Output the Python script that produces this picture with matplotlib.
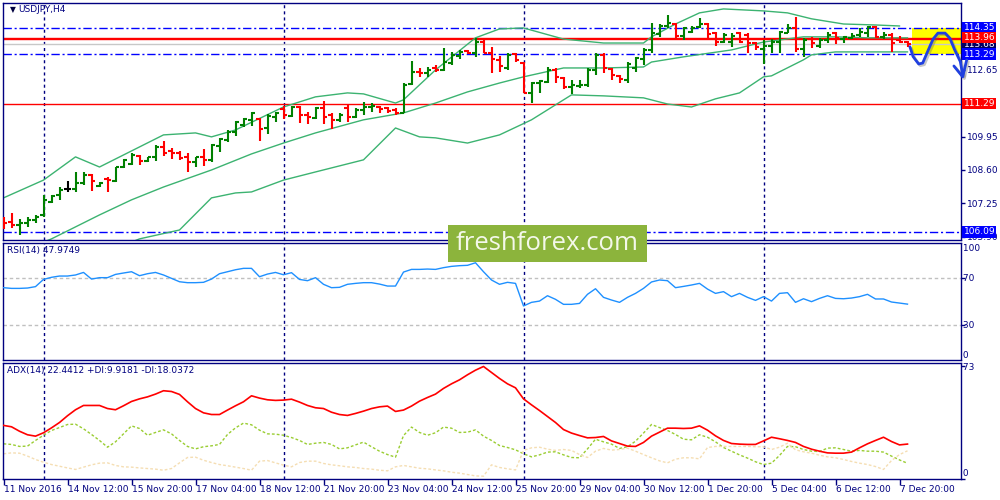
import numpy as np
import matplotlib
matplotlib.use("Agg")
import matplotlib.pyplot as plt
import matplotlib.patheffects as pe
from matplotlib.patches import Rectangle

# USDJPY H4 bars, 11 Nov 2016 .. 7 Dec 2016
opens = [106.58, 106.51, 106.37, 106.44, 106.58, 106.78, 107.32, 107.59, 107.82, 107.82,
         108.09, 108.40, 107.95, 108.23, 108.16, 108.71, 108.84, 109.17, 108.96, 109.14,
         109.54, 109.37, 109.28, 109.14, 108.94, 109.11, 109.00, 109.57, 109.82, 110.13,
         110.42, 110.62, 110.65, 110.29, 110.76, 111.06, 110.79, 111.14, 110.83, 110.72,
         111.10, 110.83, 110.62, 111.10, 110.76, 111.03, 111.14, 111.16, 111.10, 111.03,
         110.92, 112.08, 112.58, 112.54, 112.72, 112.65, 112.92, 113.22, 113.40, 113.35,
         113.80, 113.35, 113.06, 112.72, 113.30, 112.92, 111.73, 112.11, 112.18, 112.65,
         112.31, 111.95, 112.00, 112.04, 112.65, 113.26, 112.68, 112.41, 112.25, 112.72,
         113.08, 113.46, 114.11, 114.43, 114.51, 114.03, 114.20, 114.38, 114.51, 114.14,
         113.80, 113.80, 114.14, 114.07, 113.73, 113.50, 113.62, 113.80, 114.16, 114.34,
         113.49, 113.89, 113.62, 113.87, 114.16, 113.89, 113.93, 114.07, 114.16, 114.38,
         114.00, 114.07, 113.87, 113.80]
highs = [106.71, 106.85, 106.60, 106.71, 106.78, 107.59, 107.59, 107.92, 108.15, 108.53,
         108.53, 108.44, 108.13, 108.33, 108.73, 109.05, 109.30, 109.21, 109.14, 109.61,
         109.77, 109.50, 109.38, 109.28, 109.14, 109.44, 109.65, 109.88, 110.22, 110.60,
         110.72, 110.95, 110.69, 110.86, 110.94, 111.19, 111.19, 111.19, 110.96, 111.14,
         111.41, 110.90, 110.90, 111.23, 111.10, 111.37, 111.33, 111.19, 111.16, 111.12,
         112.11, 113.01, 112.72, 112.77, 112.85, 113.53, 113.38, 113.46, 113.46, 113.93,
         113.88, 113.59, 113.22, 113.33, 113.33, 112.99, 112.18, 112.25, 112.78, 112.72,
         112.35, 112.25, 112.25, 112.72, 113.35, 113.33, 112.72, 112.45, 112.99, 113.19,
         113.53, 114.57, 114.51, 114.88, 114.54, 114.40, 114.43, 114.74, 114.54, 114.20,
         114.14, 114.14, 114.20, 114.14, 113.80, 113.87, 113.89, 114.24, 114.51, 114.81,
         113.93, 113.97, 113.93, 114.20, 114.20, 114.03, 114.14, 114.34, 114.43, 114.43,
         114.20, 114.14, 114.03, 113.84]
lows = [106.20, 106.24, 105.97, 106.28, 106.47, 106.68, 107.28, 107.39, 107.70, 107.72,
        107.99, 107.76, 107.90, 107.72, 108.10, 108.67, 108.80, 108.80, 108.94, 108.98,
        109.17, 109.03, 109.00, 108.53, 108.73, 108.76, 108.94, 109.34, 109.75, 109.98,
        110.35, 110.38, 109.79, 110.06, 110.53, 110.65, 110.76, 110.52, 110.46, 110.65,
        110.45, 110.25, 110.56, 110.56, 110.69, 110.83, 110.96, 110.92, 110.92, 110.83,
        110.90, 112.04, 112.35, 112.38, 112.58, 112.62, 112.85, 113.09, 113.30, 113.16,
        113.32, 112.54, 112.57, 112.65, 112.99, 111.71, 111.30, 111.71, 112.11, 112.11,
        111.87, 111.68, 111.91, 111.95, 112.45, 112.52, 112.25, 112.11, 112.13, 112.58,
        112.85, 113.35, 114.00, 114.34, 113.93, 113.87, 114.14, 114.34, 113.93, 113.62,
        113.73, 113.59, 113.73, 113.35, 113.46, 112.89, 113.33, 113.33, 114.14, 113.39,
        113.16, 113.53, 113.53, 113.73, 113.70, 113.76, 113.89, 114.00, 113.97, 113.93,
        113.89, 113.39, 113.73, 113.59]
closes = [106.47, 106.37, 106.44, 106.58, 106.68, 107.39, 107.55, 107.79, 107.82, 108.09,
          108.40, 108.16, 108.06, 108.20, 108.71, 109.00, 109.21, 108.96, 109.11, 109.54,
          109.30, 109.28, 109.10, 108.94, 109.11, 109.00, 109.61, 109.86, 110.15, 110.56,
          110.65, 110.90, 110.25, 110.79, 110.90, 110.83, 111.14, 110.83, 110.76, 111.10,
          110.76, 110.62, 110.83, 110.76, 111.03, 111.16, 111.19, 111.06, 111.00, 110.92,
          112.04, 112.58, 112.54, 112.63, 112.65, 112.97, 113.24, 113.39, 113.35, 113.80,
          113.35, 113.08, 112.81, 113.26, 113.06, 111.73, 112.14, 112.22, 112.65, 112.35,
          111.95, 112.04, 112.04, 112.65, 113.26, 112.72, 112.45, 112.27, 112.89, 113.12,
          113.46, 114.14, 114.43, 114.54, 114.03, 114.34, 114.34, 114.51, 114.11, 113.80,
          114.07, 114.03, 113.80, 113.73, 113.59, 113.62, 113.80, 114.20, 114.34, 113.49,
          113.87, 113.76, 113.87, 114.07, 113.93, 113.97, 114.03, 114.20, 114.38, 114.00,
          114.07, 113.76, 113.80, 113.68]

# Bollinger bands (bar index, price)
bb_up_bar = [0, 5, 9, 12, 20, 24, 26, 29, 35, 39, 43, 45, 49, 50, 54, 59, 61, 62, 65, 70,
             75, 80, 81, 84, 87, 90, 95, 98, 101, 105, 109, 112]
bb_up = [107.47, 108.19, 109.13, 108.72, 110.02, 110.10, 109.94, 110.22, 111.15, 111.56,
         111.72, 111.68, 111.31, 111.44, 112.65, 113.95, 114.19, 114.31, 114.35, 113.90,
         113.74, 113.74, 113.99, 114.51, 114.96, 115.12, 115.04, 114.96, 114.72, 114.51,
         114.47, 114.43]
bb_mid_bar = [4, 6, 12, 16, 20, 26, 31, 35, 39, 45, 50, 54, 58, 62, 65, 70, 75, 80, 81, 85,
              91, 95, 100, 104, 108, 113]
bb_mid = [105.55, 105.81, 106.78, 107.39, 107.91, 108.60, 109.25, 109.69, 110.10, 110.63,
          110.91, 111.31, 111.76, 112.12, 112.37, 112.73, 112.73, 112.77, 112.97, 113.18,
          113.46, 113.78, 113.99, 113.99, 113.95, 113.95]
bb_low_bar = [15, 17, 22, 26, 29, 31, 35, 39, 45, 49, 52, 54, 58, 62, 66, 71, 75, 80, 83, 86,
              89, 92, 95, 96, 100, 101, 104, 108, 113]
bb_low = [105.55, 105.81, 106.17, 107.47, 107.67, 107.71, 108.19, 108.52, 109.01, 110.30,
          109.94, 109.90, 109.69, 110.02, 110.63, 111.64, 111.60, 111.52, 111.27, 111.15,
          111.48, 111.72, 112.37, 112.41, 113.06, 113.26, 113.38, 113.38, 113.38]

rsi = [62.1, 61.5, 61.5, 61.8, 63.0, 69.2, 71.0, 72.1, 72.1, 73.0,
       75.2, 69.5, 70.7, 70.7, 73.5, 74.7, 75.8, 72.4, 74.1, 75.2,
       73.0, 70.1, 67.2, 66.4, 66.4, 66.7, 69.5, 74.1, 75.8, 77.5,
       78.7, 78.7, 71.5, 73.8, 75.2, 73.2, 75.0, 69.2, 68.1, 70.7,
       65.0, 62.1, 62.4, 65.0, 65.8, 66.4, 66.4, 65.2, 63.5, 63.5,
       75.5, 77.8, 77.8, 78.1, 77.8, 79.3, 80.4, 81.0, 81.3, 83.5,
       75.8, 68.7, 65.0, 66.7, 65.8, 46.4, 49.5, 50.6, 55.2, 52.1,
       47.8, 47.8, 48.6, 56.4, 61.2, 53.8, 51.5, 49.5, 53.8, 57.2,
       61.5, 67.0, 68.7, 68.1, 62.1, 63.2, 64.4, 65.8, 60.9, 57.2,
       58.7, 54.4, 57.2, 53.8, 51.2, 54.4, 50.6, 57.2, 57.8, 49.5,
       52.6, 50.1, 52.9, 55.2, 52.9, 52.6, 53.2, 54.4, 56.4, 52.4,
       52.4, 49.8, 48.9, 47.9749]
adx = [34.6, 33.7, 30.8, 28.5, 27.6, 29.8, 33.0, 36.5, 40.9, 44.8,
       47.6, 47.6, 47.6, 45.6, 44.8, 47.4, 50.2, 51.9, 53.2, 55.0,
       57.2, 56.7, 54.8, 50.0, 45.6, 42.8, 41.7, 41.7, 44.6, 47.4,
       50.0, 53.9, 52.4, 51.3, 50.9, 51.1, 51.7, 49.8, 47.6, 46.1,
       45.6, 43.2, 41.7, 41.1, 42.4, 43.9, 45.6, 46.7, 47.2, 43.7,
       44.6, 47.2, 50.4, 52.8, 55.0, 58.7, 61.7, 64.3, 67.6, 70.6,
       73.0, 69.1, 65.2, 61.7, 59.1, 51.9, 48.0, 44.3, 40.4, 36.5,
       31.9, 29.6, 28.0, 26.5, 26.7, 27.4, 24.5, 22.8, 21.1, 20.9,
       23.5, 27.6, 30.2, 32.8, 32.8, 32.6, 32.8, 34.3, 31.5, 27.8,
       24.8, 22.8, 22.4, 22.2, 22.2, 24.5, 26.9, 25.9, 24.8, 23.5,
       20.9, 19.1, 17.8, 16.7, 16.5, 16.5, 17.2, 20.0, 22.6, 24.8,
       26.9, 24.1, 21.9, 22.4412]
plus_di = [22.6, 22.2, 20.9, 21.1, 24.8, 28.2, 31.3, 33.2, 35.2, 35.4,
           32.4, 28.7, 24.8, 20.4, 23.9, 29.1, 34.3, 32.6, 28.2, 30.0,
           31.7, 29.1, 24.8, 20.9, 19.3, 20.7, 21.3, 22.2, 28.7, 33.0,
           36.1, 35.0, 31.5, 29.1, 28.9, 28.2, 26.7, 24.8, 22.2, 23.0,
           23.5, 22.2, 19.3, 20.0, 21.9, 23.7, 20.7, 17.8, 15.6, 13.9,
           28.0, 33.5, 30.0, 28.2, 29.8, 33.5, 32.8, 30.0, 30.2, 31.7,
           27.6, 24.8, 21.5, 20.2, 18.7, 16.1, 14.1, 15.4, 17.2, 17.4,
           15.4, 13.7, 13.5, 19.3, 25.6, 23.9, 22.4, 19.6, 20.7, 24.3,
           29.6, 35.2, 33.2, 31.3, 28.7, 25.6, 25.2, 28.5, 26.9, 23.9,
           20.2, 17.8, 15.4, 13.3, 10.9, 9.1, 10.0, 15.0, 20.9, 20.7,
           18.9, 17.8, 17.6, 19.8, 20.0, 18.9, 17.8, 18.3, 17.8, 17.8,
           17.2, 14.6, 12.1, 9.9181]
minus_di = [16.1, 16.7, 16.5, 14.6, 12.4, 10.6, 9.1, 8.0, 6.9, 5.9,
            7.4, 8.9, 10.0, 10.2, 8.5, 7.6, 7.4, 6.9, 6.5, 6.1,
            5.4, 6.5, 10.2, 13.7, 13.9, 11.9, 10.4, 9.1, 8.3, 7.4,
            6.5, 5.4, 11.3, 11.7, 10.2, 8.7, 7.6, 10.4, 11.3, 11.3,
            9.8, 8.9, 8.3, 7.6, 7.2, 6.5, 6.1, 5.4, 5.0, 7.6,
            8.5, 7.6, 6.7, 6.3, 5.6, 5.0, 4.1, 3.5, 2.6, 1.7,
            1.5, 8.9, 7.2, 6.3, 5.6, 18.3, 20.0, 20.4, 19.1, 18.3,
            18.9, 18.3, 15.6, 13.7, 17.8, 19.6, 18.5, 18.9, 19.8, 17.8,
            15.6, 13.5, 11.5, 10.2, 12.6, 13.5, 13.5, 12.8, 20.2, 20.9,
            20.9, 20.9, 20.9, 20.9, 20.7, 20.7, 18.9, 20.4, 23.0, 18.7,
            17.4, 16.5, 15.2, 14.1, 13.5, 12.4, 11.1, 10.0, 9.1, 7.8,
            5.9, 11.7, 15.6, 18.0372]

date_labels = ["11 Nov 2016", "14 Nov 12:00", "15 Nov 20:00", "17 Nov 04:00", "18 Nov 12:00",
               "21 Nov 20:00", "23 Nov 04:00", "24 Nov 12:00", "25 Nov 20:00", "29 Nov 04:00",
               "30 Nov 12:00", "1 Dec 20:00", "5 Dec 04:00", "6 Dec 12:00", "7 Dec 20:00"]
date_bars = [0, 8, 16, 24, 32, 40, 48, 56, 64, 72, 80, 88, 96, 104, 112]
week_bars = [5, 35, 65, 95]

support_res = [114.35, 113.29, 106.09]     # blue dash-dot levels
red_levels = [113.96, 113.90, 111.29]
bid = 113.68
plain_ticks = [112.65, 109.95, 108.60, 107.25, 105.90]

# hand drawn forecast (bar index, price)
fc_bar = [113.3, 113.7, 114.4, 114.9, 115.6, 116.2, 116.8, 117.7, 118.3, 118.9, 119.6, 119.9]
fc_price = [113.59, 113.19, 112.89, 112.93, 113.46, 113.90, 114.14, 114.14, 113.93, 113.46,
            112.99, 112.45]
head_bar = [118.8, 119.9, 120.4]
head_price = [112.81, 112.37, 113.06]

NAVY = "#000080"
FS = 6.5
plt.rcParams["font.family"] = ["DejaVu Sans"]

fig = plt.figure(figsize=(10, 5), dpi=100)
fig.patch.set_facecolor("white")


def panel(top, bottom):
    a = fig.add_axes([0.003, 1 - bottom / 500, 0.9575, (bottom - top) / 500])
    a.set_xlim(-0.0625, 119.625)
    for s in a.spines.values():
        s.set_color(NAVY)
        s.set_linewidth(1)
    a.tick_params(axis="x", bottom=False, labelbottom=False)
    a.yaxis.tick_right()
    a.tick_params(axis="y", direction="out", length=3, width=1, colors=NAVY,
                  labelsize=FS, pad=2)
    for b in week_bars:
        a.axvline(b, color=NAVY, lw=1, ls=(0, (2.2, 2.2)), zorder=1)
    return a


ax = panel(3, 239.5)
ax_rsi = panel(242.5, 360)
ax_adx = panel(362.5, 478.5)

# ---- main price panel
ax.set_ylim(105.785, 115.36)
ax.set_yticks(plain_ticks)
ax.set_yticklabels([f"{v:.2f}" for v in plain_ticks])

ax.add_patch(Rectangle((113.6, 113.29), 119.625 - 113.6, 114.35 - 113.29,
                       fc="#ffff00", ec="none", zorder=1.5))
for v in support_res:
    ax.axhline(v, color="#0000ff", lw=1, ls=(0, (6, 2, 1.5, 2)), zorder=2)
ax.axhline(bid, color="#c8c8c8", lw=1, zorder=1.8)
for v in red_levels:
    ax.axhline(v, color="#ff0000", lw=1, zorder=2)

ax.plot(bb_up_bar, bb_up, color="#3cb371", lw=1, zorder=2.5)
ax.plot(bb_mid_bar, bb_mid, color="#3cb371", lw=1, zorder=2.5)
ax.plot(bb_low_bar, bb_low, color="#3cb371", lw=1, zorder=2.5)

idx = np.arange(len(closes))
cols = ["#008000" if c > o else "#ff0000" if c < o else "#000000"
        for o, c in zip(opens, closes)]
ax.vlines(idx, lows, highs, colors=cols, lw=1.5, zorder=3)
ax.hlines(opens, idx - 0.45, idx, colors=cols, lw=1.5, zorder=3)
ax.hlines(closes, idx, idx + 0.45, colors=cols, lw=1.5, zorder=3)

shadow = [pe.SimpleLineShadow(offset=(1.2, -1.2), shadow_color="#606060", alpha=0.35),
          pe.Normal()]
ax.plot(fc_bar, fc_price, color="#2040e0", lw=2, clip_on=False, zorder=12,
        solid_capstyle="round", path_effects=shadow)
ax.plot(head_bar, head_price, color="#2040e0", lw=2, clip_on=False, zorder=12,
        solid_capstyle="round", solid_joinstyle="round", path_effects=shadow)


def tag(a, val, text, fc, z=10):
    a.annotate(text, xy=(1, val), xycoords=a.get_yaxis_transform(), xytext=(3, 0),
               textcoords="offset pixels", ha="left", va="center", fontsize=FS,
               color="white", annotation_clip=False, zorder=z,
               bbox=dict(boxstyle="square,pad=0.15", fc=fc, ec="none"))


tag(ax, bid, f"{bid:.2f}", "#000060", z=9)
tag(ax, 114.35, "114.35", "#0000ff")
tag(ax, 113.96, "113.96", "#ff0000")
tag(ax, 113.29, "113.29", "#0000ff")
tag(ax, 111.29, "111.29", "#ff0000")
tag(ax, 106.09, "106.09", "#0000ff")

ax.text(10 / 957, 1 - 7 / 236.5, "\u25bc", transform=ax.transAxes, fontsize=5.5,
        color="#000040", ha="center", va="center")
ax.text(15 / 957, 1 - 7 / 236.5, "USDJPY,H4", transform=ax.transAxes, fontsize=FS,
        color=NAVY, ha="left", va="center")

# ---- RSI panel
ax_rsi.set_ylim(0, 100.9)
ax_rsi.set_yticks([70, 30])
ax_rsi.set_yticklabels([])
for v in (70, 30):
    ax_rsi.axhline(v, color="#c0c0c0", lw=1, ls=(0, (2.5, 2)), zorder=1)
ax_rsi.plot(idx, rsi, color="#1e90ff", lw=1, zorder=3)
ytr = ax_rsi.get_yaxis_transform()
for v, va in ((100, "top"), (70, "center"), (30, "center"), (0, "bottom")):
    ax_rsi.text(1, v, f" {v}", transform=ytr, fontsize=FS, color=NAVY, ha="left", va=va)
ax_rsi.text(4 / 957, 1 - 8 / 117.5, f"RSI(14) {rsi[-1]:.4f}", transform=ax_rsi.transAxes,
            fontsize=FS, color=NAVY, ha="left", va="center")

# ---- ADX panel
ax_adx.set_ylim(0, 75.6)
ax_adx.set_yticks([73, 0])
ax_adx.set_yticklabels([])
ax_adx.plot(idx, plus_di, color="#9acd32", lw=1, ls=(0, (2, 1.5)), zorder=2)
ax_adx.plot(idx, minus_di, color="#f5deb3", lw=1, ls=(0, (2, 1.5)), zorder=2)
ax_adx.plot(idx, adx, color="#ff0000", lw=1.2, zorder=3)
ytr = ax_adx.get_yaxis_transform()
ax_adx.text(1, 75.6, " 73", transform=ytr, fontsize=FS, color=NAVY, ha="left", va="top")
ax_adx.text(1, 0, " 0", transform=ytr, fontsize=FS, color=NAVY, ha="left", va="bottom")
ax_adx.text(4 / 957, 1 - 8 / 116,
            f"ADX(14) {adx[-1]:.4f} +DI:{plus_di[-1]:.4f} -DI:{minus_di[-1]:.4f}",
            transform=ax_adx.transAxes, fontsize=FS, color=NAVY, ha="left", va="center")
ax_adx.tick_params(axis="x", bottom=True, labelbottom=True, direction="out", length=4,
                   width=1, colors=NAVY, labelsize=FS, pad=1)
ax_adx.set_xticks(date_bars)
ax_adx.set_xticklabels(date_labels, ha="left")

# watermark
fig.add_artist(Rectangle((448 / 1000, 1 - 262 / 500), 199 / 1000, 37 / 500,
                         transform=fig.transFigure, fc="#8cb43c", ec="none", zorder=20))
fig.text(547 / 1000, 1 - 244 / 500, "freshforex.com", fontsize=18.5, color="#f4f8ea",
         family=["Open Sans", "DejaVu Sans"], ha="center", va="center", zorder=21)

fig.savefig("out.png", dpi=100, facecolor="white")
